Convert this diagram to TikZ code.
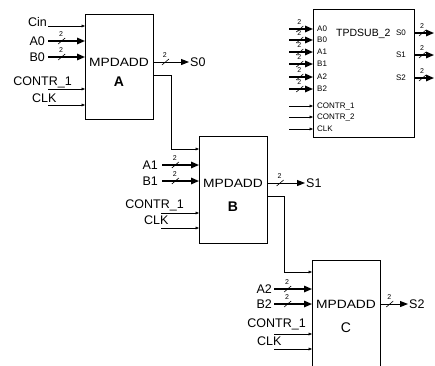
\documentclass[tikz,border=0pt]{standalone}
\usepackage{fontspec}
\setmainfont{Liberation Sans}
\usetikzlibrary{arrows.meta}
\begin{document}
\begin{tikzpicture}[x=1pt,y=-1pt,
 blk/.style={draw,line width=0.8pt,inner sep=0,anchor=north west},
 bus/.style={line width=1.5pt,-{Triangle[length=8pt,width=6.5pt]}},
 obus/.style={line width=1pt,-{Triangle[length=8pt,width=6pt]}},
 sig/.style={line width=0.6pt,-{Triangle[length=3.5pt,width=2.8pt]}},
 lbl/.style={font=\fontsize{12.5}{13}\selectfont,inner sep=0},
 ttl/.style={font=\fontsize{12}{13}\selectfont,inner sep=0},
 big/.style={font=\fontsize{14}{14}\selectfont,inner sep=0},
 sml/.style={font=\fontsize{8}{8}\selectfont,inner sep=0},
 busmark/.pic={\draw[line width=0.6pt,-] (-3.5,3)--(3.5,-3);
   \node[font=\fontsize{7}{7}\selectfont,inner sep=0] at (-0.5,-7) {2};}
]
\useasboundingbox (0,0) rectangle (435,365);
\clip (0,0) rectangle (435,365);

% ---------- boxes ----------
\node[blk,minimum width=68pt,minimum height=105pt] (A) at (85,14) {};
\node[blk,minimum width=68pt,minimum height=107pt] (B) at (199,136) {};
\node[blk,minimum width=68pt,minimum height=130pt] (C) at (312,260) {};
\node[blk,minimum width=101pt,minimum height=128pt] (T) at (313,9) {};

\node[ttl] (At) at (119,62) {\scalebox{1.15}[1]{MPDADD}};
\node[big] (An) at (119,82) {\textbf{A}};
\node[ttl] (Bt) at (233,183) {\scalebox{1.15}[1]{MPDADD}};
\node[big] (Bn) at (233,207) {\textbf{B}};
\node[ttl] (Ct) at (346,304) {\scalebox{1.15}[1]{MPDADD}};
\node[big] (Cn) at (346,328) {C};

% ---------- block A inputs ----------
\coordinate (cinS) at (48,26);
\coordinate (a0S) at (48,41);
\coordinate (b0S) at (48,57);
\coordinate (caS) at (48,89);
\coordinate (clkaS) at (48,105);
\node[lbl,anchor=base east] (cinL) at (47,26) {Cin};
\node[lbl,anchor=east] (a0L) at (45,41) {A0};
\node[lbl,anchor=east] (b0L) at (45,57) {B0};
\node[lbl,anchor=base east] (caL) at (72,85) {CONTR\_1};
\node[lbl,anchor=base west] (clkaL) at (32,102) {CLK};
\draw[sig] (cinS) -- (cinS -| A.west);
\draw[bus] (a0S) -- pic[pos=0.37]{busmark} (a0S -| A.west);
\draw[bus] (b0S) -- pic[pos=0.37]{busmark} (b0S -| A.west);
\draw[sig] (caS) -- (caS -| A.west);
\draw[sig] (clkaS) -- (clkaS -| A.west);

% output S0
\coordinate (s0E) at (189,62);
\draw[obus] (s0E -| A.east) -- pic[pos=0.33]{busmark} (s0E);
\node[lbl,anchor=west] (s0L) at (190,62) {S0};

% carry A -> B
\coordinate (fa) at (171,75);
\coordinate (fab) at (171,149);
\draw[sig] (fa -| A.east) -- (fa) -- (fab) -- (fab -| B.west);

% ---------- block B inputs ----------
\coordinate (a1S) at (162,165);
\coordinate (b1S) at (162,181);
\coordinate (cbS) at (161,213);
\coordinate (clkbS) at (161,228);
\node[lbl,anchor=east] (a1L) at (158,165) {A1};
\node[lbl,anchor=east] (b1L) at (158,181) {B1};
\node[lbl,anchor=base east] (cbL) at (184,208.5) {CONTR\_1};
\node[lbl,anchor=base west] (clkbL) at (144,224.5) {CLK};
\draw[bus] (a1S) -- pic[pos=0.36]{busmark} (a1S -| B.west);
\draw[bus] (b1S) -- pic[pos=0.36]{busmark} (b1S -| B.west);
\draw[sig] (cbS) -- (cbS -| B.west);
\draw[sig] (clkbS) -- (clkbS -| B.west);

% output S1
\coordinate (s1E) at (305,183);
\draw[obus] (s1E -| B.east) -- pic[pos=0.33]{busmark} (s1E);
\node[lbl,anchor=west] (s1L) at (306,183) {S1};

% carry B -> C
\coordinate (fb) at (284,196);
\coordinate (fbc) at (284,272);
\draw[sig] (fb -| B.east) -- (fb) -- (fbc) -- (fbc -| C.west);

% ---------- block C inputs ----------
\coordinate (a2S) at (274,289);
\coordinate (b2S) at (274,304);
\coordinate (ccS) at (274,334);
\coordinate (clkcS) at (274,349);
\node[lbl,anchor=east] (a2L) at (272,289) {A2};
\node[lbl,anchor=east] (b2L) at (272,304) {B2};
\node[lbl,anchor=base east] (ccL) at (306,327) {CONTR\_1};
\node[lbl,anchor=base west] (clkcL) at (257,345) {CLK};
\draw[bus] (a2S) -- pic[pos=0.36]{busmark} (a2S -| C.west);
\draw[bus] (b2S) -- pic[pos=0.36]{busmark} (b2S -| C.west);
\draw[sig] (ccS) -- (ccS -| C.west);
\draw[sig] (clkcS) -- (clkcS -| C.west);

% output S2
\coordinate (s2E) at (408,304);
\draw[obus] (s2E -| C.east) -- pic[pos=0.33]{busmark} (s2E);
\node[lbl,anchor=west] (s2L) at (409,304) {S2};

% ---------- TPDSUB_2 ----------
\node[font=\fontsize{10.5}{11}\selectfont,inner sep=0,anchor=west] (Tt) at (336,34) {TPDSUB\_2};
\foreach \n/\t/\yy in {ta0/A0/29,tb0/B0/40,ta1/A1/52,tb1/B1/64,ta2/A2/77,tb2/B2/89}{
  \coordinate (\n S) at (289,\yy);
  \node[sml,anchor=west] (\n L) at (317,\yy) {\t};
  \draw[bus] (\n S) -- pic[pos=0.45]{busmark} (\n S -| T.west);
}
\foreach \n/\t/\yy in {tc1/CONTR\_1/106,tc2/CONTR\_2/117,tclk/CLK/129}{
  \coordinate (\n S) at (289,\yy);
  \node[sml,anchor=west] (\n L) at (317,\yy) {\t};
  \draw[sig] (\n S) -- (\n S -| T.west);
}
\foreach \n/\t/\yy in {ts0/S0/33,ts1/S1/55,ts2/S2/78}{
  \coordinate (\n E) at (434,\yy);
  \node[sml,anchor=east] (\n L) at (406,\yy) {\t};
  \draw[bus] (\n E -| T.east) -- pic[pos=0.4]{busmark} (\n E);
}
\end{tikzpicture}
\end{document}
